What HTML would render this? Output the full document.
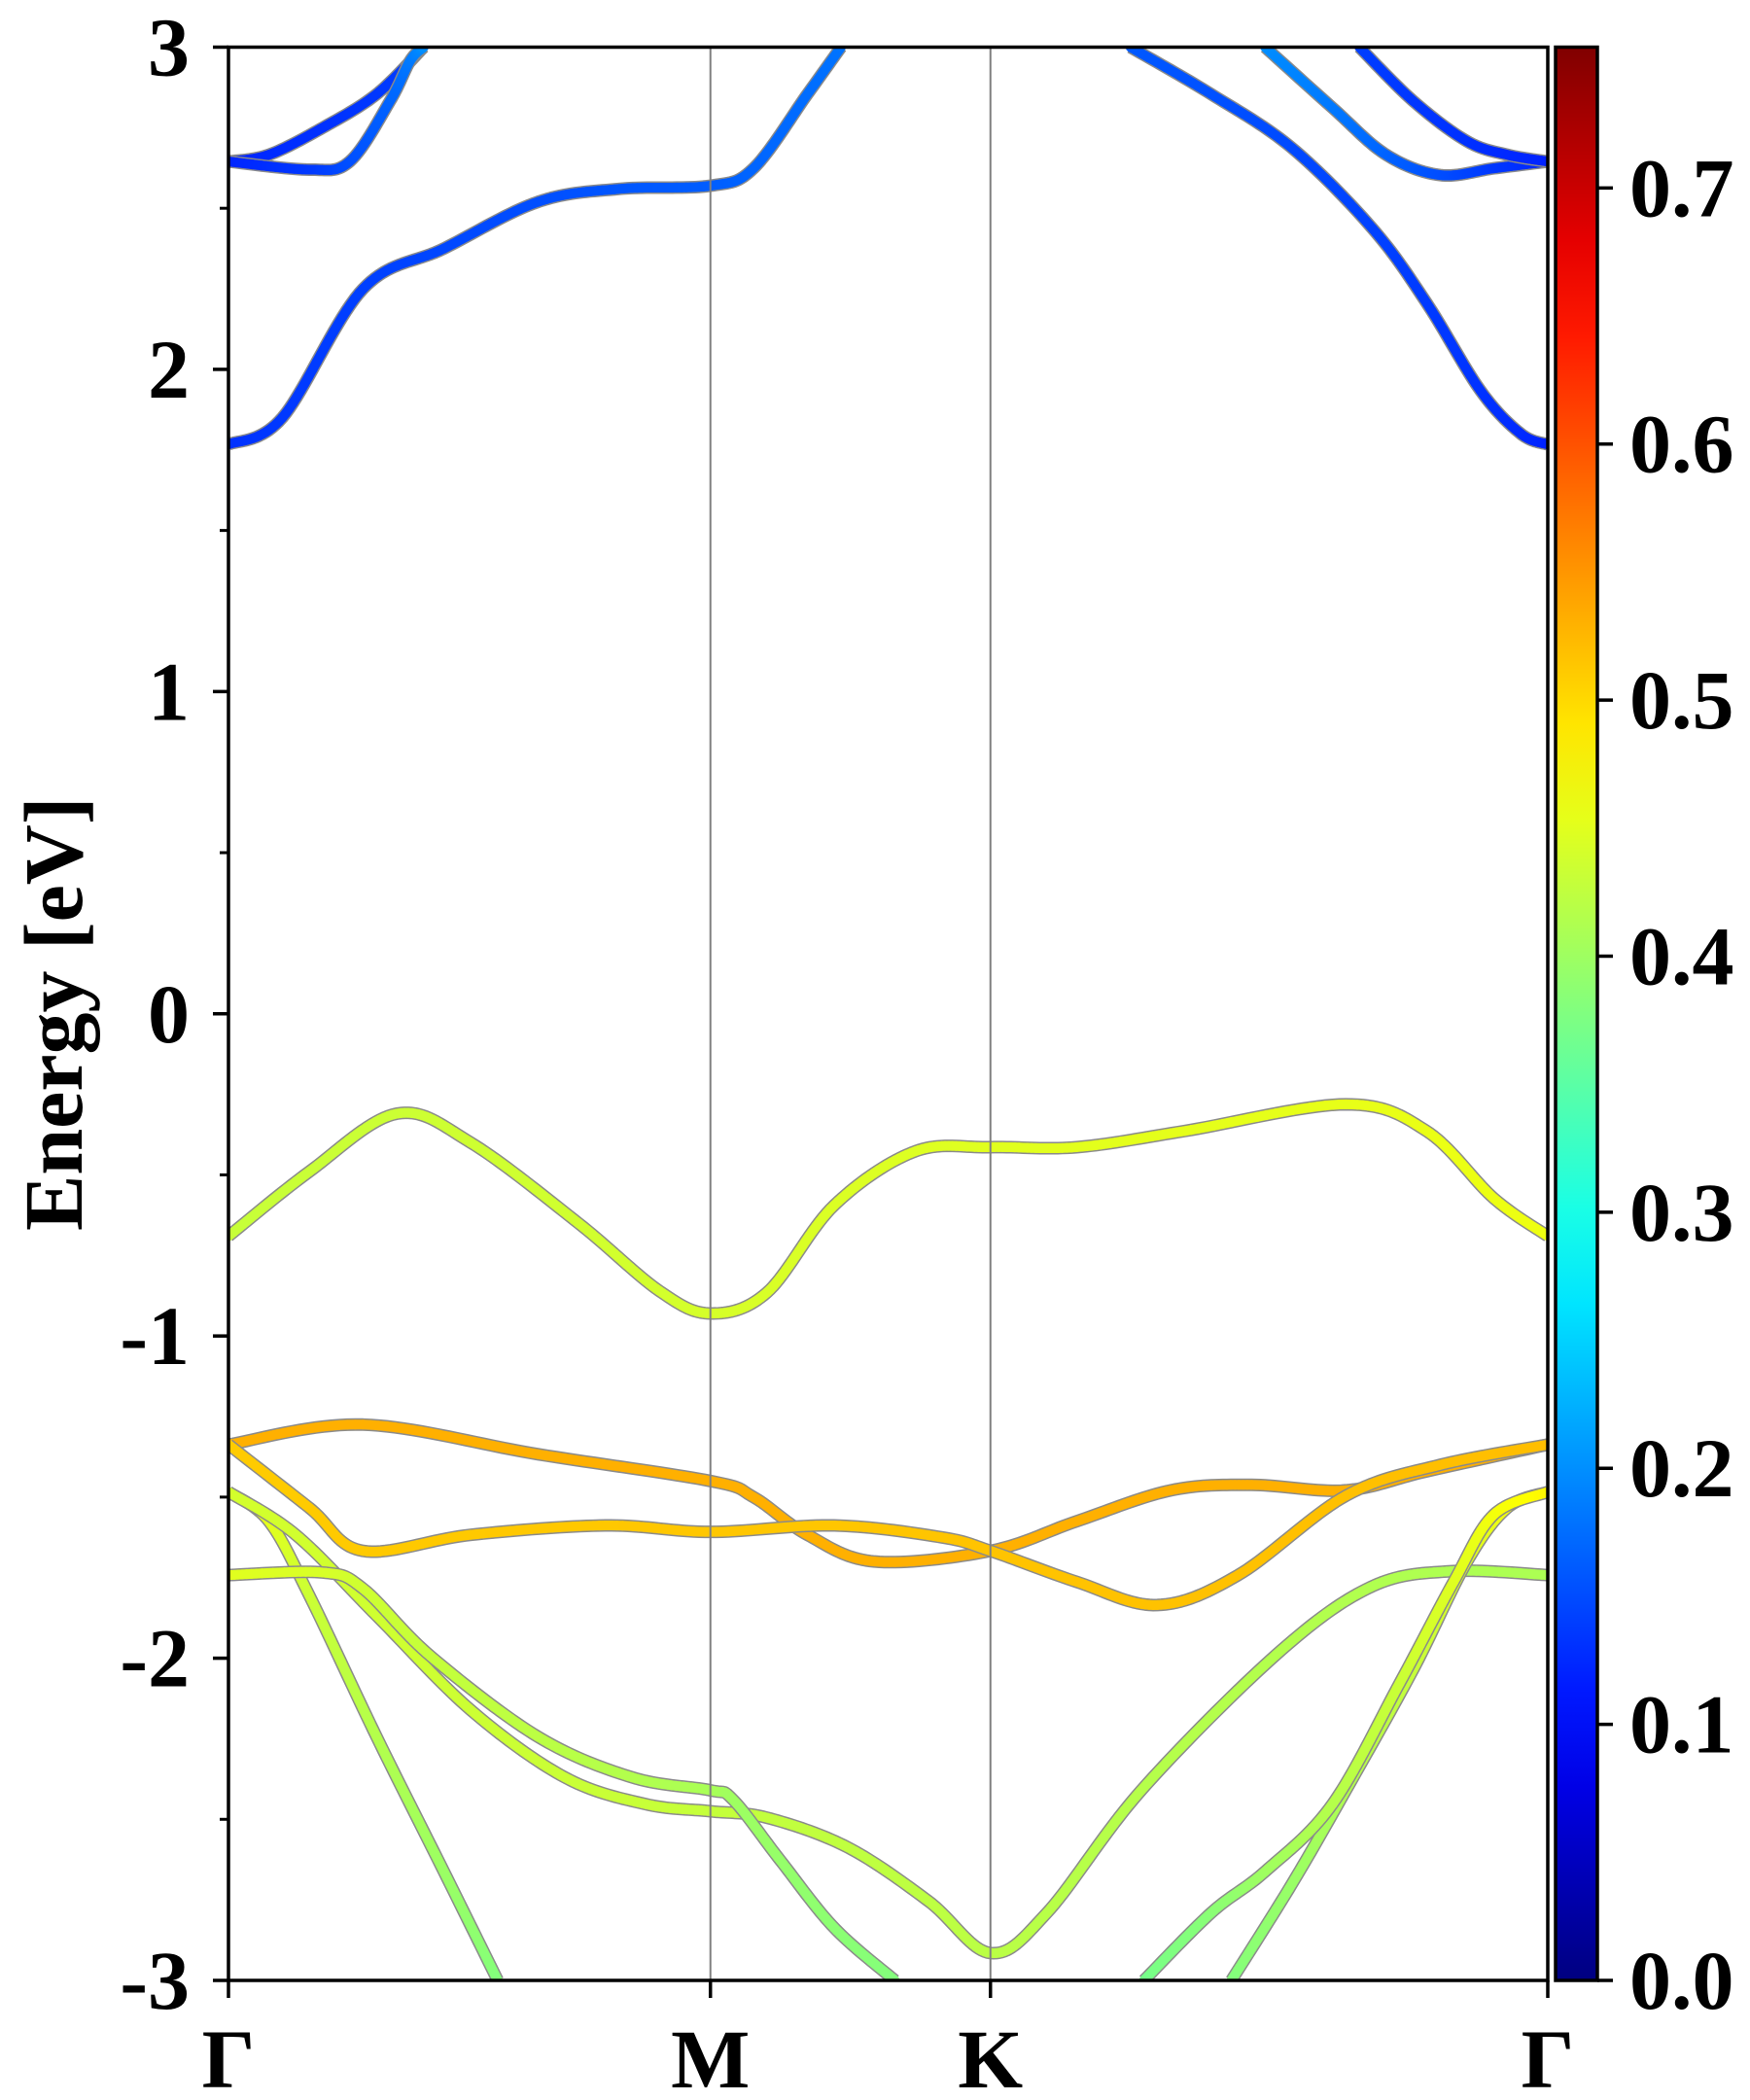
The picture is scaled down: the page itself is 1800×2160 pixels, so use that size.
<!DOCTYPE html>
<html><head><meta charset="utf-8"><style>
html,body{margin:0;padding:0;background:#fff}
svg{display:block}
text{font-family:"Liberation Serif","Times New Roman",serif;font-weight:bold;fill:#000}
</style></head><body>
<svg id="chart" width="1800" height="2160" viewBox="0 0 1800 2160" xmlns="http://www.w3.org/2000/svg">
<defs><clipPath id="plotclip"><rect x="235" y="48.5" width="1357" height="1988.5"/></clipPath>
<linearGradient id="cbgrad" x1="0" y1="1" x2="0" y2="0"></linearGradient></defs>
<g id="bands" clip-path="url(#plotclip)"></g>
<g id="axes"></g>
</svg>
<script>
// ---- data ----
const kLabels = ["Γ","M","K","Γ"];
const kTicks = [0, 1, 1.5810, 2.7374];
const yTicks = [-3,-2,-1,0,1,2,3];
const yTickLabels = ["-3","-2","-1","0","1","2","3"];
const cbTicks = [0.0,0.1,0.2,0.3,0.4,0.5,0.6,0.7];
const cbTickLabels = ["0.0","0.1","0.2","0.3","0.4","0.5","0.6","0.7"];
const vmax = 0.755;
const bandA1K = [0,0.1117,0.2793,0.4469,0.6425,0.8101,1,1.0894,1.2011,1.2709];
const bandA1E = [1.767,1.85,2.25,2.375,2.52,2.56,2.57,2.624,2.854,3.0];
const bandA1W = [0.13,0.18];
const bandA2K = [1.8715,2.0391,2.2067,2.3743,2.4860,2.5978,2.6816,2.7374];
const bandA2E = [3.0,2.854,2.687,2.436,2.206,1.934,1.80,1.767];
const bandA2W = [0.16,0.12];
const bandBK = [0,0.0838,0.1955,0.3073,0.4050];
const bandBE = [2.645,2.666,2.75,2.854,3.0];
const bandBW = [0.12,0.14];
const bandCK = [0,0.1676,0.2514,0.3352,0.3771,0.4050];
const bandCE = [2.645,2.62,2.645,2.833,2.958,3.0];
const bandCW = [0.12,0.2];
const bandDK = [2.1508,2.2905,2.4022,2.5140,2.6257,2.7374];
const bandDE = [3.0,2.812,2.666,2.603,2.624,2.645];
const bandDW = [0.2,0.12];
const bandEK = [2.3464,2.4581,2.5698,2.6536,2.7374];
const bandEE = [3.0,2.833,2.708,2.666,2.645];
const bandEW = [0.14,0.12];
const bandV1K = [0,0.1676,0.3492,0.5028,0.7263,0.8939,1,1.1173,1.2570,1.4246,1.5810,1.7598,1.9832,2.3184,2.4860,2.6257,2.7374];
const bandV1E = [-0.69,-0.49,-0.31,-0.40,-0.65,-0.86,-0.93,-0.865,-0.594,-0.427,-0.414,-0.414,-0.364,-0.281,-0.364,-0.573,-0.69];
const bandV1W = [0.43,0.46];
const bandO1K = [0,0.2793,0.6425,1,1.0894,1.2011,1.3408,1.5810,1.7598,1.9553,2.1229,2.3184,2.4860,2.7374];
const bandO1E = [-1.337,-1.275,-1.367,-1.45,-1.50,-1.617,-1.70,-1.667,-1.575,-1.479,-1.462,-1.479,-1.42,-1.337];
const bandO1W = [0.53,0.53];
const bandO2K = [0,0.1676,0.2793,0.5028,0.7821,1,1.2570,1.4804,1.5810,1.7598,1.9274,2.0950,2.3184,2.5140,2.7374];
const bandO2E = [-1.337,-1.533,-1.667,-1.617,-1.588,-1.608,-1.588,-1.625,-1.667,-1.763,-1.835,-1.742,-1.496,-1.40,-1.337];
const bandO2W = [0.51,0.52];
const bandY1K = [0,0.0838,0.1676,0.3073,0.4469,0.5587];
const bandY1E = [-1.484,-1.575,-1.805,-2.244,-2.662,-3.0];
const bandY1W = [0.47,0.38];
const bandY2K = [0,0.1397,0.3073,0.5028,0.6983,0.8659,1,1.1173,1.2849,1.4525,1.5810,1.6983,1.8939,2.1732,2.3687,2.5363,2.7374];
const bandY2E = [-1.484,-1.617,-1.868,-2.161,-2.37,-2.453,-2.475,-2.495,-2.587,-2.754,-2.915,-2.79,-2.41,-1.99,-1.78,-1.73,-1.742];
const bandY2W = [0.44,0.41];
const bandLK = [0,0.1955,0.2793,0.4190,0.6425,0.8380,1,1.0475,1.1453,1.2570,1.3827];
const bandLE = [-1.742,-1.734,-1.784,-1.993,-2.244,-2.37,-2.41,-2.44,-2.628,-2.837,-3.0];
const bandLW = [0.45,0.38];
const bandR1K = [2.7374,2.6536,2.5698,2.4581,2.3184,2.2067,2.0810];
const bandR1E = [-1.484,-1.533,-1.70,-2.035,-2.41,-2.70,-3.0];
const bandR1W = [0.48,0.38];
const bandR2K = [2.7374,2.6257,2.5419,2.4302,2.2905,2.1508,2.0391,1.8994];
const bandR2E = [-1.484,-1.554,-1.763,-2.077,-2.453,-2.662,-2.79,-3.0];
const bandR2W = [0.48,0.37];

const bands = [
 ["band-c1-left",bandA1K,bandA1E,bandA1W],["band-c1-right",bandA2K,bandA2E,bandA2W],
 ["band-c2-left",bandBK,bandBE,bandBW],["band-c3-left",bandCK,bandCE,bandCW],
 ["band-c2-right",bandDK,bandDE,bandDW],["band-c3-right",bandEK,bandEE,bandEW],
 ["band-v1",bandV1K,bandV1E,bandV1W],["band-v2",bandO1K,bandO1E,bandO1W],["band-v3",bandO2K,bandO2E,bandO2W],
 ["band-v4-steep",bandY1K,bandY1E,bandY1W],["band-v5",bandY2K,bandY2E,bandY2W],["band-v6",bandLK,bandLE,bandLW],
 ["band-v7-right",bandR1K,bandR1E,bandR1W],["band-v8-right",bandR2K,bandR2E,bandR2W]
];

const X0=235, X1=1592, Y0=48.5, Y1=2037;
const xs = k => X0 + (k - kTicks[0])/(kTicks[3]-kTicks[0])*(X1-X0);
const ys = e => Y0 + (3 - e)/6*(Y1-Y0);
const NS="http://www.w3.org/2000/svg";
const FF='Liberation Serif, Times New Roman, serif';
function mk(tag, attrs, parent){const el=document.createElementNS(NS,tag);for(const a in attrs)el.setAttribute(a,attrs[a]);parent.appendChild(el);return el;}
function jet(v){v=Math.max(0,Math.min(1,v));
 const r=Math.max(0,Math.min(1,Math.min(4*v-1.5,-4*v+4.5)));
 const g=Math.max(0,Math.min(1,Math.min(4*v-0.5,-4*v+3.5)));
 const b=Math.max(0,Math.min(1,Math.min(4*v+0.5,-4*v+2.5)));
 return `rgb(${Math.round(r*255)},${Math.round(g*255)},${Math.round(b*255)})`;}
function sample(px){const out=[];const n=px.length;
 for(let i=0;i<n-1;i++){const p0=px[Math.max(0,i-1)],p1=px[i],p2=px[i+1],p3=px[Math.min(n-1,i+2)];
  for(let t=0;t<1;t+=0.05){const t2=t*t,t3=t2*t;
   const f=(a,b,c,d)=>0.5*((2*b)+(-a+c)*t+(2*a-5*b+4*c-d)*t2+(-a+3*b-3*c+d)*t3);
   out.push([f(p0[0],p1[0],p2[0],p3[0]),f(p0[1],p1[1],p2[1],p3[1])]);}}
 out.push(px[n-1]);return out;}

const gB=document.getElementById('bands');
bands.forEach(([name,K,E,W])=>{
 const g=mk('g',{},gB);
 
 
 const pts=sample(K.map((k,i)=>[xs(k),ys(E[i])]));
 mk('polyline',{points:pts.map(p=>p.join(',')).join(' '),fill:'none',stroke:'#8a8a8a','stroke-width':13,'stroke-linejoin':'round'},g);
 for(let i=0;i<pts.length-1;i++){const w=W[0]+(W[1]-W[0])*i/(pts.length-1);
  mk('line',{x1:pts[i][0],y1:pts[i][1],x2:pts[i+1][0],y2:pts[i+1][1],stroke:jet(w/vmax),'stroke-width':10,'stroke-linecap':'round'},g);}
});

const gA=document.getElementById('axes');
[1,2].forEach(i=>{const l=mk('line',{x1:xs(kTicks[i]),x2:xs(kTicks[i]),y1:Y0,y2:Y1,stroke:'#808080','stroke-width':2},gA);
  });
const fr=mk('rect',{x:X0,y:Y0,width:X1-X0,height:Y1-Y0,fill:'none',stroke:'#000','stroke-width':3.5},gA);
 
yTicks.forEach((v,i)=>{const y=ys(v);
 mk('line',{x1:X0-16,x2:X0,y1:y,y2:y,stroke:'#000','stroke-width':3.5},gA);
 const t=mk('text',{x:X0-40,y:y+29,'text-anchor':'end','font-size':86,'font-family':FF,'font-weight':'bold'},gA);t.textContent=yTickLabels[i];
  
 if(i<yTicks.length-1){const ym=ys(v+0.5);mk('line',{x1:X0-9,x2:X0,y1:ym,y2:ym,stroke:'#000','stroke-width':3},gA);}
});
kTicks.forEach((k,i)=>{const x=xs(k);
 mk('line',{x1:x,x2:x,y1:Y1,y2:Y1+18,stroke:'#000','stroke-width':3.5},gA);
 const t=mk('text',{x:x,y:Y1+110,'text-anchor':'middle','font-size':86,'font-family':FF,'font-weight':'bold'},gA);t.textContent=kLabels[i];
  
});
const yt=mk('text',{x:0,y:0,'text-anchor':'middle','font-size':86,'font-family':FF,'font-weight':'bold',transform:`translate(84,${(Y0+Y1)/2}) rotate(-90)`},gA);
yt.textContent='Energy [eV]';
 
const grad=document.getElementById('cbgrad');
for(let i=0;i<=20;i++){mk('stop',{offset:i/20,'stop-color':jet(i/20)},grad);}
const CX0=1600, CX1=1643;
const cb=mk('rect',{x:CX0,y:Y0,width:CX1-CX0,height:Y1-Y0,fill:'url(#cbgrad)',stroke:'#000','stroke-width':3.5},gA);
 
const cs=v=>Y1-(v/vmax)*(Y1-Y0);
cbTicks.forEach((v,i)=>{const y=cs(v);
 mk('line',{x1:CX1,x2:CX1+16,y1:y,y2:y,stroke:'#000','stroke-width':3.5},gA);
 const t=mk('text',{x:CX1+33,y:y+29,'text-anchor':'start','font-size':86,'font-family':FF,'font-weight':'bold'},gA);t.textContent=cbTickLabels[i];
  
});
</script>
</body></html>
